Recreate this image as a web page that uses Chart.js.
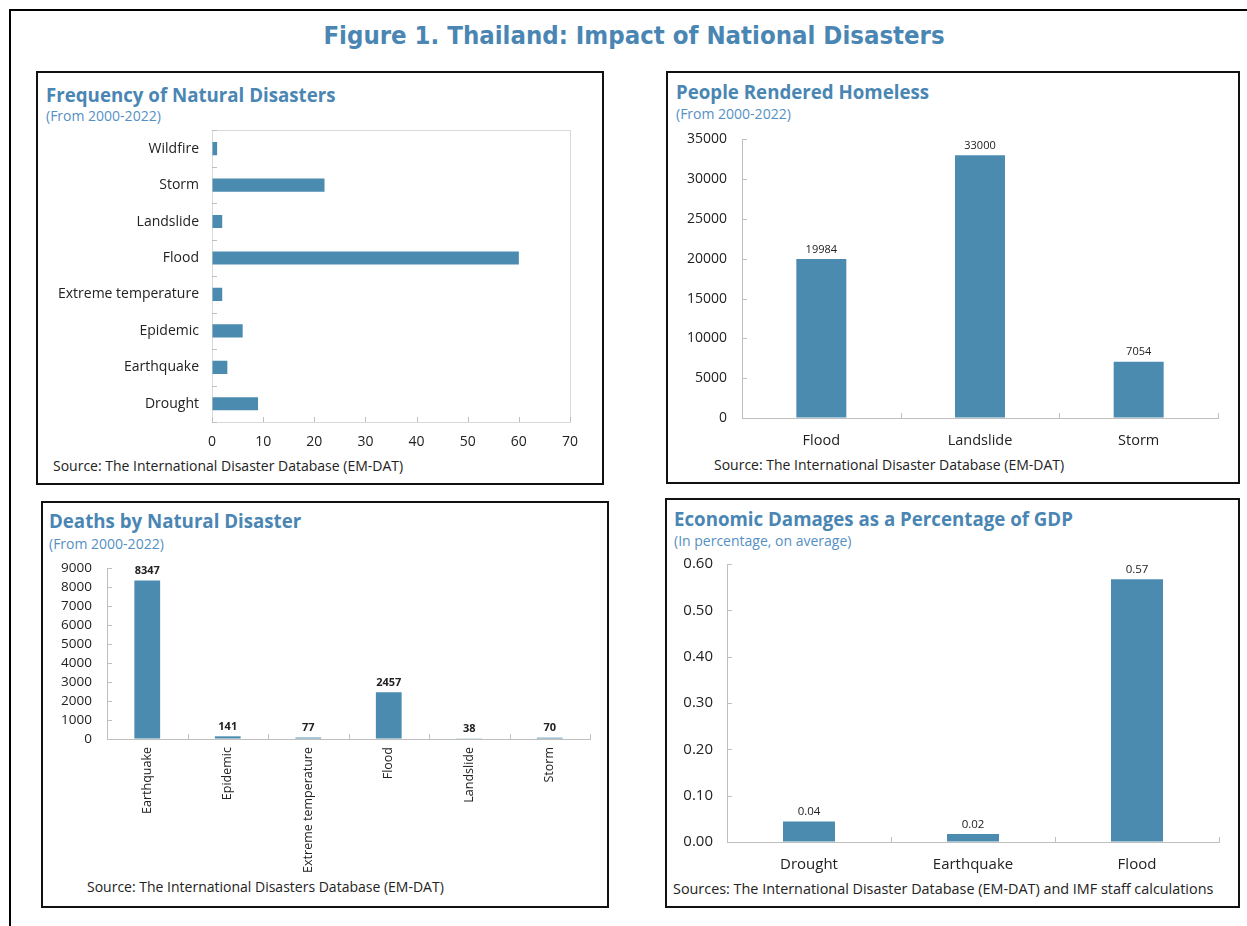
<!DOCTYPE html>
<html>
<head>
<meta charset="utf-8">
<script src="https://cdn.jsdelivr.net/npm/chart.js@4.4.1/dist/chart.umd.min.js"></script>
<style>
  body { margin: 0; background: #fff; width: 1247px; height: 926px; overflow: hidden; position: relative; font-family: 'Open Sans', sans-serif; }
  .frame { position: absolute; left: 9px; top: 9px; width: 1260px; height: 940px; border-top: 2px solid #000; border-left: 2px solid #000; }
  .panel { position: absolute; border: 2px solid #111; box-sizing: border-box; }
  .txt { position: absolute; white-space: nowrap; line-height: 1; }
  .main { left: 0; width: 1268px; text-align: center; top: 20px; font: bold 25.5px 'Liberation Sans Narrow', 'DejaVu Sans Condensed', sans-serif; color: #4a86b3; }
  .ttl { font-weight: 700; font-size: 18.7px; color: #4a86b3; }
  .sub { font-size: 14px; color: #5590c4; }
  .src { font-size: 14px; color: #222; }
  canvas { position: absolute; }
</style>
</head>
<body>
<div class="frame"></div>
<div class="txt main">Figure 1. Thailand: Impact of National Disasters</div>

<div class="panel" style="left:36px;top:71px;width:568px;height:414px"></div>
<div class="panel" style="left:666px;top:71px;width:574px;height:413px"></div>
<div class="panel" style="left:41px;top:501px;width:568px;height:407px"></div>
<div class="panel" style="left:665px;top:498px;width:575px;height:410px"></div>

<div class="txt ttl" style="left:46px;top:86px">Frequency of Natural Disasters</div>
<div class="txt sub" style="left:46px;top:109px">(From 2000-2022)</div>
<div class="txt src" style="left:53px;top:459px">Source: The International Disaster Database (EM-DAT)</div>

<div class="txt ttl" style="left:676px;top:83px">People Rendered Homeless</div>
<div class="txt sub" style="left:676px;top:107px">(From 2000-2022)</div>
<div class="txt src" style="left:714px;top:458px">Source: The International Disaster Database (EM-DAT)</div>

<div class="txt ttl" style="left:49px;top:512px">Deaths by Natural Disaster</div>
<div class="txt sub" style="left:49px;top:537px">(From 2000-2022)</div>
<div class="txt src" style="left:87px;top:880px">Source: The International Disasters Database (EM-DAT)</div>

<div class="txt ttl" style="left:674px;top:510px">Economic Damages as a Percentage of GDP</div>
<div class="txt sub" style="left:674px;top:534px">(In percentage, on average)</div>
<div class="txt src" style="left:673px;top:882px;font-size:14.4px">Sources: The International Disaster Database (EM-DAT) and IMF staff calculations</div>

<canvas id="freq" width="550" height="346" style="left:40px;top:109px"></canvas>
<canvas id="homeless" width="550" height="338" style="left:680px;top:116px"></canvas>
<canvas id="deaths" width="552" height="340" style="left:48px;top:545px"></canvas>
<canvas id="damages" width="556" height="339" style="left:676px;top:541px"></canvas>

<script>
// frequency of natural disasters, 2000-2022 (count of events)
const freqLabels = ['Drought', 'Earthquake', 'Epidemic', 'Extreme temperature', 'Flood', 'Landslide', 'Storm', 'Wildfire'];
const freqValues = [9, 3, 6, 2, 60, 2, 22, 1];

// people rendered homeless
const homelessLabels = ['Flood', 'Landslide', 'Storm'];
const homelessValues = [19984, 33000, 7054];

// deaths
const deathLabels = ['Earthquake', 'Epidemic', 'Extreme temperature', 'Flood', 'Landslide', 'Storm'];
const deathValues = [8347, 141, 77, 2457, 38, 70];

// economic damages, % of GDP
const damageLabels = ['Drought', 'Earthquake', 'Flood'];
const damageValues = [0.044, 0.017, 0.567];

const barColor = '#4b8baf';
const axisColor = '#bfbfbf';

Chart.defaults.font.family = "'Open Sans', sans-serif";
Chart.defaults.color = '#222';
Chart.defaults.animation = false;
Chart.defaults.plugins.legend.display = false;
Chart.defaults.plugins.tooltip.enabled = false;

// short tick marks drawn inside the plot area
const innerTicks = {
  id: 'innerTicks',
  afterDatasetsDraw(chart) {
    const ctx = chart.ctx, a = chart.chartArea;
    ctx.save();
    ctx.strokeStyle = axisColor;
    ctx.lineWidth = 1;
    Object.values(chart.scales).forEach(s => {
      let px = [];
      if (s.type === 'category') {
        const n = s.ticks.length;
        for (let i = 0; i <= n; i++) {
          px.push(s.isHorizontal() ? s.left + i * s.width / n : s.top + i * s.height / n);
        }
      } else {
        px = s.ticks.map((t, i) => s.getPixelForTick(i));
      }
      px.forEach(p => {
        const q = Math.round(p) + 0.5;
        ctx.beginPath();
        if (s.isHorizontal()) { ctx.moveTo(q, a.bottom); ctx.lineTo(q, a.bottom - 5); }
        else { ctx.moveTo(a.left, q); ctx.lineTo(a.left + 5, q); }
        ctx.stroke();
      });
    });
    ctx.restore();
  }
};

const plotFrame = {
  id: 'plotFrame',
  beforeDatasetsDraw(chart) {
    const ctx = chart.ctx, a = chart.chartArea;
    ctx.save();
    ctx.strokeStyle = '#d9d9d9';
    ctx.lineWidth = 1;
    ctx.strokeRect(Math.round(a.left) + 0.5, Math.round(a.top) + 0.5, Math.round(a.width), Math.round(a.height));
    ctx.restore();
  }
};

// value labels above bars
function barLabels(font, decimals) {
  return {
    id: 'barLabels',
    afterDatasetsDraw(chart) {
      const ctx = chart.ctx;
      const vals = chart.data.datasets[0].data;
      ctx.save();
      ctx.font = font;
      ctx.fillStyle = '#222';
      ctx.textAlign = 'center';
      ctx.textBaseline = 'bottom';
      chart.getDatasetMeta(0).data.forEach((bar, i) => {
        ctx.fillText(vals[i].toFixed(decimals), bar.x, bar.y - 4);
      });
      ctx.restore();
    }
  };
}

function fixWidth(w) { return s => { s.width = w; }; }
function fixHeight(h) { return s => { s.height = h; }; }

new Chart(document.getElementById('freq'), {
  type: 'bar',
  data: {
    labels: freqLabels,
    datasets: [{ data: freqValues, backgroundColor: barColor, barPercentage: 1, categoryPercentage: 0.36 }]
  },
  options: {
    responsive: false,
    indexAxis: 'y',
    layout: { padding: { top: 5, right: 20, left: 0, bottom: 0 } },
    scales: {
      x: {
        min: 0, max: 70,
        ticks: { stepSize: 10, font: { size: 14 }, padding: 12 },
        grid: { drawOnChartArea: false, drawTicks: false },
        border: { color: axisColor },
        afterFit: fixHeight(33)
      },
      y: {
        reverse: true,
        ticks: { font: { size: 14 }, padding: 13 },
        grid: { drawOnChartArea: false, drawTicks: false },
        border: { color: axisColor },
        afterFit: fixWidth(172)
      }
    }
  },
  plugins: [plotFrame, innerTicks]
});

new Chart(document.getElementById('homeless'), {
  type: 'bar',
  data: {
    labels: homelessLabels,
    datasets: [{ data: homelessValues, backgroundColor: barColor, barPercentage: 1, categoryPercentage: 0.315 }]
  },
  options: {
    responsive: false,
    layout: { padding: { top: 10, right: 12, left: 0, bottom: 0 } },
    scales: {
      x: {
        ticks: { font: { size: 14.5 }, padding: 14 },
        grid: { drawOnChartArea: false, drawTicks: false },
        border: { color: axisColor },
        afterFit: fixHeight(36)
      },
      y: {
        min: 0, max: 35000,
        ticks: { stepSize: 5000, autoSkip: false, font: { size: 14 }, padding: 15, callback: v => String(v) },
        grid: { drawOnChartArea: false, drawTicks: false },
        border: { color: axisColor },
        afterFit: fixWidth(62)
      }
    }
  },
  plugins: [innerTicks, barLabels("11px 'Open Sans', sans-serif", 0)]
});

new Chart(document.getElementById('deaths'), {
  type: 'bar',
  data: {
    labels: deathLabels,
    datasets: [{ data: deathValues, backgroundColor: barColor, barPercentage: 1, categoryPercentage: 0.32 }]
  },
  options: {
    responsive: false,
    layout: { padding: { top: 10, right: 10, left: 0, bottom: 0 } },
    scales: {
      x: {
        ticks: { font: { size: 12.5 }, padding: 8, minRotation: 90, maxRotation: 90, autoSkip: false },
        grid: { drawOnChartArea: false, drawTicks: false },
        border: { color: axisColor },
        afterFit: fixHeight(146)
      },
      y: {
        min: 0, max: 9000,
        ticks: { stepSize: 1000, autoSkip: false, font: { size: 13.5 }, padding: 15, callback: v => String(v) },
        grid: { drawOnChartArea: false, drawTicks: false },
        border: { color: axisColor },
        afterFit: fixWidth(59)
      }
    }
  },
  plugins: [innerTicks, barLabels("bold 11px 'Open Sans', sans-serif", 0)]
});

new Chart(document.getElementById('damages'), {
  type: 'bar',
  data: {
    labels: damageLabels,
    datasets: [{ data: damageValues, backgroundColor: barColor, barPercentage: 1, categoryPercentage: 0.317 }]
  },
  options: {
    responsive: false,
    layout: { padding: { top: 10, right: 13, left: 0, bottom: 0 } },
    scales: {
      x: {
        ticks: { font: { size: 15 }, padding: 14 },
        grid: { drawOnChartArea: false, drawTicks: false },
        border: { color: axisColor },
        afterFit: fixHeight(38)
      },
      y: {
        min: 0, max: 0.6,
        ticks: { stepSize: 0.1, autoSkip: false, font: { size: 15 }, padding: 14, callback: v => v.toFixed(2) },
        grid: { drawOnChartArea: false, drawTicks: false },
        border: { color: axisColor },
        afterFit: fixWidth(51)
      }
    }
  },
  plugins: [innerTicks, barLabels("11.5px 'Open Sans', sans-serif", 2)]
});
</script>
</body>
</html>
